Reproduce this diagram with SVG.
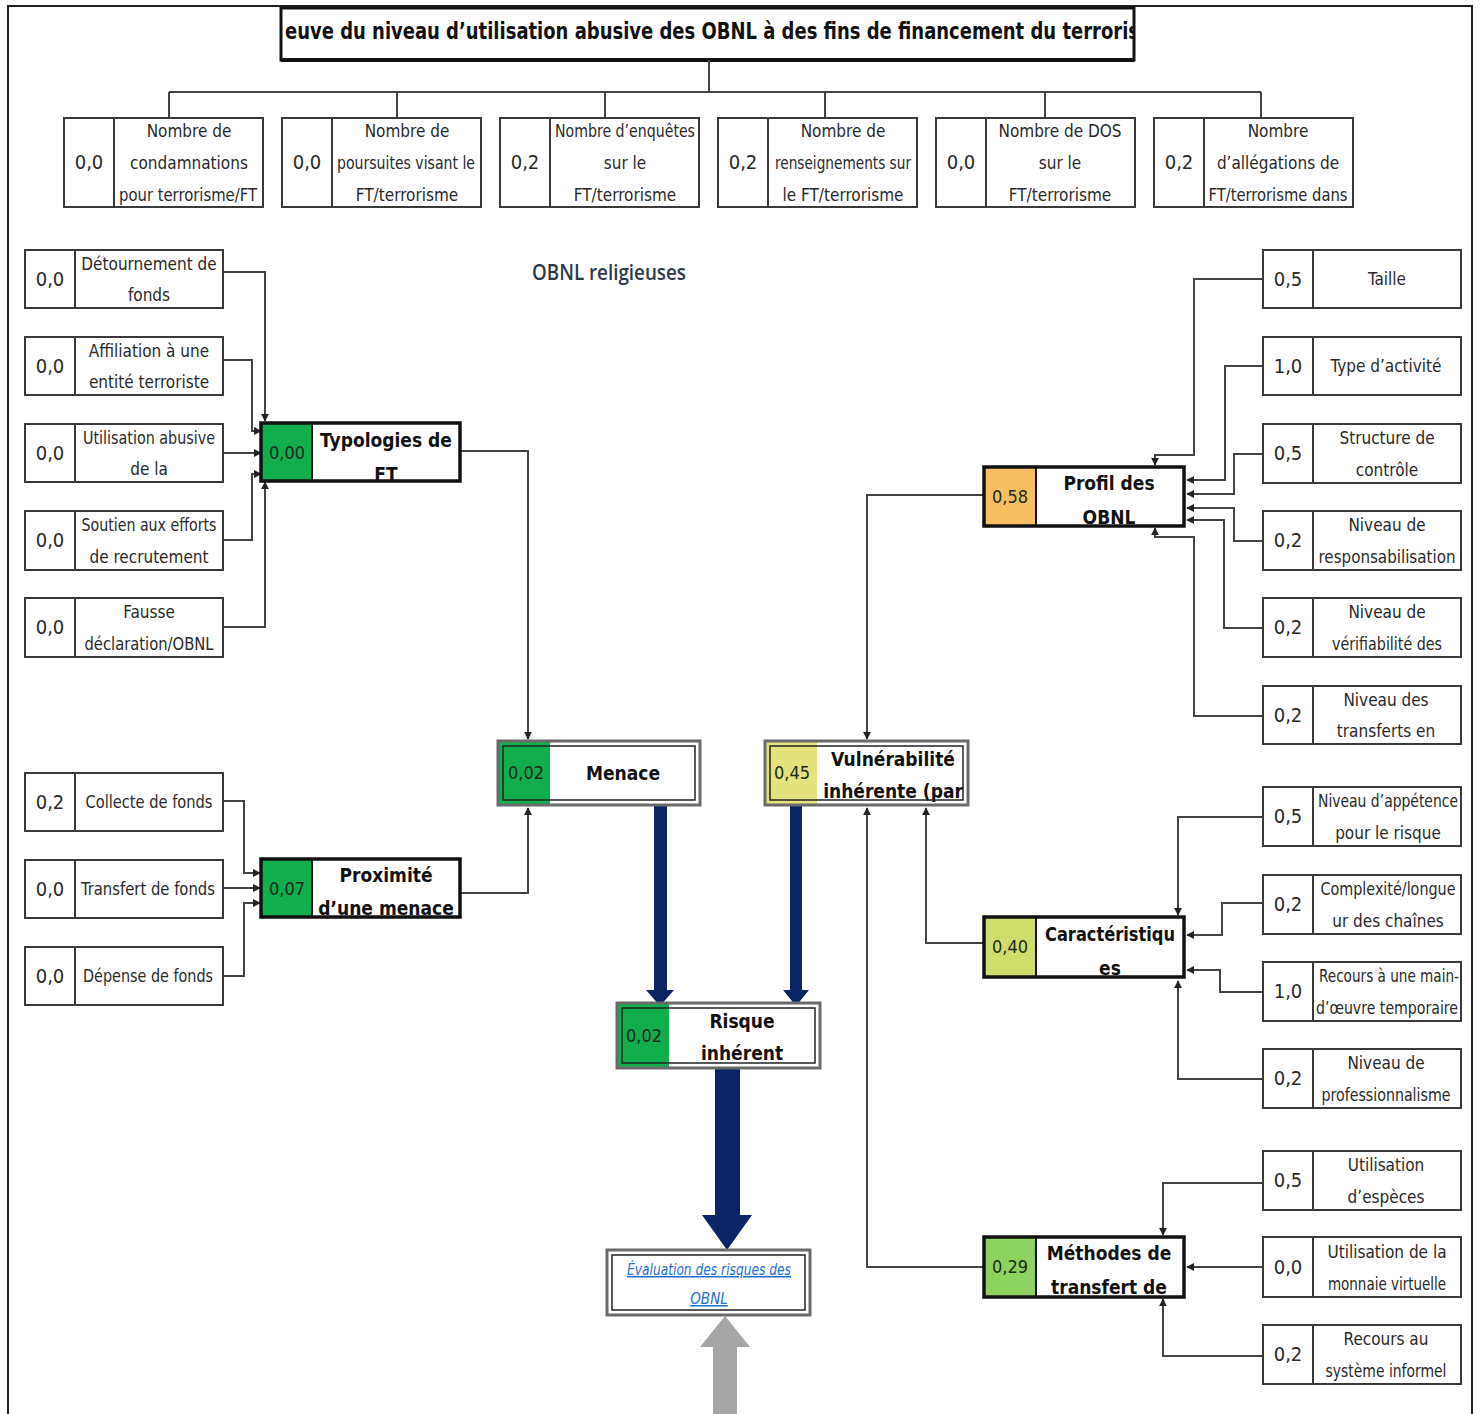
<svg xmlns="http://www.w3.org/2000/svg" width="1480" height="1414" viewBox="0 0 1480 1414">
<defs>
<style>
.frame{fill:none;stroke:#222;stroke-width:2}
.box{fill:#fff;stroke:#3a3a3a;stroke-width:2}
.div{stroke:#3a3a3a;stroke-width:2}
.nbox{fill:none;stroke:#111;stroke-width:3.5}
.obox{fill:none;stroke:#6a6a6a;stroke-width:3}
.ibox{fill:none;stroke:#222;stroke-width:1.5}
.lbl{font-family:"DejaVu Sans Condensed","Liberation Sans Narrow","Liberation Sans",sans-serif;font-size:17px;fill:#2a2a2a;text-anchor:middle}
.val{font-family:"DejaVu Sans Condensed","Liberation Sans Narrow","Liberation Sans",sans-serif;font-size:20px;fill:#2a2a2a;text-anchor:middle}
.nval{font-family:"DejaVu Sans Condensed","Liberation Sans Narrow","Liberation Sans",sans-serif;font-size:18px;fill:#1a2a1a;text-anchor:middle}
.ttl{font-family:"DejaVu Sans Condensed","Liberation Sans","DejaVu Sans",sans-serif;font-size:19px;font-weight:bold;fill:#111;text-anchor:middle}
.conn{fill:none;stroke:#444;stroke-width:2;marker-end:url(#ah)}
.tree{fill:none;stroke:#444;stroke-width:2}
.link{font-family:"DejaVu Sans Condensed","Liberation Sans",sans-serif;font-size:15px;font-style:italic;fill:#1f6fd0;text-anchor:middle;text-decoration:underline}
</style>
<marker id="ah" viewBox="0 0 10 10" refX="9" refY="5" markerWidth="8" markerHeight="8" markerUnits="userSpaceOnUse" orient="auto">
<path d="M0,0 L10,5 L0,10 z" fill="#222"/>
</marker>
<clipPath id="titleclip"><rect x="283" y="10" width="850" height="48"/></clipPath>
</defs>
<rect width="1480" height="1414" fill="#fff"/>
<path class="frame" d="M8,1414 V6 H1472 V1414"/>

<g id="title">
<rect x="281" y="8" width="853" height="52" fill="#fff" stroke="#111" stroke-width="3"/>
<line x1="281" y1="60" x2="1134" y2="60" stroke="#111" stroke-width="4"/>
<g clip-path="url(#titleclip)">
<text x="285" y="39" font-family="'DejaVu Sans Condensed','Liberation Sans',sans-serif" font-size="23" font-weight="bold" fill="#111" textLength="854" lengthAdjust="spacingAndGlyphs">euve du niveau d’utilisation abusive des OBNL à des fins de  financement du terroris</text>
</g>
</g>

<g id="tree-lines">
<path class="tree" d="M709,60 V92 M169,92 H1261 M169,92 V118 M397,92 V118 M605,92 V118 M825,92 V118 M1045,92 V118 M1261,92 V118"/>
</g>

<g id="top1"><rect class="box" x="64" y="118" width="199" height="89"/><line class="div" x1="114" y1="118" x2="114" y2="207"/><text class="val" x="89" y="169">0,0</text><text class="lbl" x="189" y="137">Nombre de</text><text class="lbl" x="189" y="169">condamnations</text><text class="lbl" x="188" y="201" textLength="138" lengthAdjust="spacingAndGlyphs">pour terrorisme/FT</text></g>
<g id="top2"><rect class="box" x="282" y="118" width="199" height="89"/><line class="div" x1="332" y1="118" x2="332" y2="207"/><text class="val" x="307" y="169">0,0</text><text class="lbl" x="407" y="137">Nombre de</text><text class="lbl" x="406" y="169" textLength="138" lengthAdjust="spacingAndGlyphs">poursuites visant le</text><text class="lbl" x="407" y="201">FT/terrorisme</text></g>
<g id="top3"><rect class="box" x="500" y="118" width="199" height="89"/><line class="div" x1="550" y1="118" x2="550" y2="207"/><text class="val" x="525" y="169">0,2</text><text class="lbl" x="625" y="137" textLength="140" lengthAdjust="spacingAndGlyphs">Nombre d’enquêtes</text><text class="lbl" x="625" y="169">sur le</text><text class="lbl" x="625" y="201">FT/terrorisme</text></g>
<g id="top4"><rect class="box" x="718" y="118" width="199" height="89"/><line class="div" x1="768" y1="118" x2="768" y2="207"/><text class="val" x="743" y="169">0,2</text><text class="lbl" x="843" y="137">Nombre de</text><text class="lbl" x="843" y="169" textLength="136" lengthAdjust="spacingAndGlyphs">renseignements sur</text><text class="lbl" x="843" y="201">le FT/terrorisme</text></g>
<g id="top5"><rect class="box" x="936" y="118" width="199" height="89"/><line class="div" x1="986" y1="118" x2="986" y2="207"/><text class="val" x="961" y="169">0,0</text><text class="lbl" x="1060" y="137">Nombre de DOS</text><text class="lbl" x="1060" y="169">sur le</text><text class="lbl" x="1060" y="201">FT/terrorisme</text></g>
<g id="top6"><rect class="box" x="1154" y="118" width="199" height="89"/><line class="div" x1="1204" y1="118" x2="1204" y2="207"/><text class="val" x="1179" y="169">0,2</text><text class="lbl" x="1278" y="137">Nombre</text><text class="lbl" x="1278" y="169">d’allégations de</text><text class="lbl" x="1278" y="201" textLength="139" lengthAdjust="spacingAndGlyphs">FT/terrorisme dans</text></g>

<text id="subtitle" x="609" y="280" font-family="'Open Sans','Liberation Sans',sans-serif" font-size="22" font-weight="600" fill="#2e3a4c" text-anchor="middle" textLength="154" lengthAdjust="spacingAndGlyphs">OBNL religieuses</text>

<g id="connectors">
<path class="conn" d="M223,272 H265 V421"/>
<path class="conn" d="M223,360 H252 V431 H261"/>
<path class="conn" d="M223,453 H261"/>
<path class="conn" d="M223,540 H252 V474 H261"/>
<path class="conn" d="M223,627 H265 V482"/>
<path class="conn" d="M460,451 H528 V739"/>
<path class="conn" d="M460,893 H528 V808"/>
<path class="conn" d="M223,801 H244 V873 H260"/>
<path class="conn" d="M223,888 H260"/>
<path class="conn" d="M223,976 H244 V903 H260"/>
<path class="conn" d="M1263,279 H1194 V455 H1155 V465"/>
<path class="conn" d="M1263,366 H1225 V480 H1187"/>
<path class="conn" d="M1263,454 H1234 V494 H1187"/>
<path class="conn" d="M1263,541 H1234 V508 H1187"/>
<path class="conn" d="M1263,628 H1224 V520 H1187"/>
<path class="conn" d="M1263,716 H1194 V537 H1155 V528"/>
<path class="conn" d="M984,495 H867 V739"/>
<path class="conn" d="M984,943 H926 V808"/>
<path class="conn" d="M984,1267 H867 V808"/>
<path class="conn" d="M1263,817 H1178 V915"/>
<path class="conn" d="M1263,903 H1222 V935 H1187"/>
<path class="conn" d="M1263,992 H1220 V970 H1187"/>
<path class="conn" d="M1263,1079 H1178 V981"/>
<path class="conn" d="M1263,1183 H1163 V1235"/>
<path class="conn" d="M1263,1267 H1187"/>
<path class="conn" d="M1263,1356 H1163 V1299"/>
<polygon fill="#0b2466" points="654,806 667,806 667,990 674,990 660,1006 646,990 654,990"/>
<polygon fill="#0b2466" points="790,806 802,806 802,990 809,990 796,1006 783,990 790,990"/>
<polygon fill="#0b2466" points="715,1068 740,1068 740,1215 752,1215 727,1250 702,1215 715,1215"/>
<polygon fill="#a6a6a6" points="713,1414 737,1414 737,1347 750,1347 725,1316 700,1347 713,1347"/>
</g>

<g id="in-detournement"><rect class="box" x="25" y="250" width="198" height="58"/><line class="div" x1="75" y1="250" x2="75" y2="308"/><text class="val" x="50" y="286">0,0</text><text class="lbl" x="149" y="270">Détournement de</text><text class="lbl" x="149" y="301">fonds</text></g>
<g id="in-affiliation"><rect class="box" x="25" y="337" width="198" height="58"/><line class="div" x1="75" y1="337" x2="75" y2="395"/><text class="val" x="50" y="373">0,0</text><text class="lbl" x="149" y="357">Affiliation à une</text><text class="lbl" x="149" y="388">entité terroriste</text></g>
<g id="in-utilisation"><rect class="box" x="25" y="424" width="198" height="58"/><line class="div" x1="75" y1="424" x2="75" y2="482"/><text class="val" x="50" y="460">0,0</text><text class="lbl" x="149" y="444" textLength="132" lengthAdjust="spacingAndGlyphs">Utilisation abusive</text><text class="lbl" x="149" y="475">de la</text></g>
<g id="in-soutien"><rect class="box" x="25" y="511" width="198" height="59"/><line class="div" x1="75" y1="511" x2="75" y2="570"/><text class="val" x="50" y="547">0,0</text><text class="lbl" x="149" y="531" textLength="135" lengthAdjust="spacingAndGlyphs">Soutien aux efforts</text><text class="lbl" x="149" y="563">de recrutement</text></g>
<g id="in-fausse"><rect class="box" x="25" y="598" width="198" height="59"/><line class="div" x1="75" y1="598" x2="75" y2="657"/><text class="val" x="50" y="634">0,0</text><text class="lbl" x="149" y="618">Fausse</text><text class="lbl" x="149" y="650" textLength="129" lengthAdjust="spacingAndGlyphs">déclaration/OBNL</text></g>

<g id="in-collecte"><rect class="box" x="25" y="773" width="198" height="58"/><line class="div" x1="75" y1="773" x2="75" y2="831"/><text class="val" x="50" y="809">0,2</text><text class="lbl" x="149" y="808" textLength="127" lengthAdjust="spacingAndGlyphs">Collecte de fonds</text></g>
<g id="in-transfert"><rect class="box" x="25" y="860" width="198" height="58"/><line class="div" x1="75" y1="860" x2="75" y2="918"/><text class="val" x="50" y="896">0,0</text><text class="lbl" x="148" y="895" textLength="134" lengthAdjust="spacingAndGlyphs">Transfert de fonds</text></g>
<g id="in-depense"><rect class="box" x="25" y="947" width="198" height="58"/><line class="div" x1="75" y1="947" x2="75" y2="1005"/><text class="val" x="50" y="983">0,0</text><text class="lbl" x="148" y="982" textLength="130" lengthAdjust="spacingAndGlyphs">Dépense de fonds</text></g>

<g id="typologies"><rect x="261" y="423" width="199" height="58" fill="#fff"/><rect x="261" y="423" width="51" height="58" fill="#12ad4c"/><line x1="312" y1="423" x2="312" y2="481" stroke="#111" stroke-width="2"/><text class="nval" x="287" y="459">0,00</text><text class="ttl" x="386" y="447">Typologies de</text><text class="ttl" x="386" y="481">FT</text><rect class="nbox" x="261" y="423" width="199" height="58"/></g>
<g id="proximite"><rect x="261" y="859" width="199" height="58" fill="#fff"/><rect x="261" y="859" width="51" height="58" fill="#12ad4c"/><line x1="312" y1="859" x2="312" y2="917" stroke="#111" stroke-width="2"/><text class="nval" x="287" y="895">0,07</text><text class="ttl" x="386" y="882">Proximité</text><text class="ttl" x="386" y="915">d’une menace</text><rect class="nbox" x="261" y="859" width="199" height="58"/></g>

<g id="menace"><rect x="498" y="741" width="202" height="64" fill="#fff"/><rect x="498" y="741" width="52" height="64" fill="#12ad4c"/><text class="nval" x="526" y="779">0,02</text><text class="ttl" x="623" y="780">Menace</text><rect class="obox" x="498" y="741" width="202" height="64"/><rect class="ibox" x="503" y="746" width="192" height="54"/></g>
<g id="vulnerabilite"><rect x="765" y="741" width="203" height="64" fill="#fff"/><rect x="765" y="741" width="52" height="64" fill="#e3e27c"/><text class="nval" x="792" y="779">0,45</text><text class="ttl" x="893" y="766">Vulnérabilité</text><text class="ttl" x="893" y="798">inhérente (par</text><rect class="obox" x="765" y="741" width="203" height="64"/><rect class="ibox" x="770" y="746" width="193" height="54"/></g>
<g id="risque"><rect x="617" y="1003" width="203" height="65" fill="#fff"/><rect x="617" y="1003" width="52" height="65" fill="#12ad4c"/><text class="nval" x="644" y="1042">0,02</text><text class="ttl" x="742" y="1028">Risque</text><text class="ttl" x="742" y="1060">inhérent</text><rect class="obox" x="617" y="1003" width="203" height="65"/><rect class="ibox" x="622" y="1008" width="193" height="55"/></g>
<g id="evaluation"><rect x="607" y="1250" width="203" height="65" fill="#fff"/><text class="link" x="709" y="1275" textLength="164" lengthAdjust="spacingAndGlyphs">Évaluation des risques des</text><text class="link" x="709" y="1304">OBNL</text><rect class="obox" x="607" y="1250" width="203" height="65"/><rect class="ibox" x="612" y="1255" width="193" height="55" stroke="#555"/></g>

<g id="profil"><rect x="984" y="467" width="200" height="59" fill="#fff"/><rect x="984" y="467" width="52" height="59" fill="#f8bf62"/><line x1="1036" y1="467" x2="1036" y2="526" stroke="#111" stroke-width="2"/><text class="nval" x="1010" y="503">0,58</text><text class="ttl" x="1109" y="490">Profil des</text><text class="ttl" x="1109" y="524">OBNL</text><rect class="nbox" x="984" y="467" width="200" height="59"/></g>
<g id="caracteristiques"><rect x="984" y="917" width="200" height="60" fill="#fff"/><rect x="984" y="917" width="52" height="60" fill="#cfdd6a"/><line x1="1036" y1="917" x2="1036" y2="977" stroke="#111" stroke-width="2"/><text class="nval" x="1010" y="953">0,40</text><text class="ttl" x="1110" y="941" textLength="130" lengthAdjust="spacingAndGlyphs">Caractéristiqu</text><text class="ttl" x="1110" y="975">es</text><rect class="nbox" x="984" y="917" width="200" height="60"/></g>
<g id="methodes"><rect x="984" y="1237" width="200" height="60" fill="#fff"/><rect x="984" y="1237" width="52" height="60" fill="#8ed25f"/><line x1="1036" y1="1237" x2="1036" y2="1297" stroke="#111" stroke-width="2"/><text class="nval" x="1010" y="1273">0,29</text><text class="ttl" x="1109" y="1260">Méthodes de</text><text class="ttl" x="1109" y="1294">transfert de</text><rect class="nbox" x="984" y="1237" width="200" height="60"/></g>

<g id="in-taille"><rect class="box" x="1263" y="250" width="198" height="58"/><line class="div" x1="1313" y1="250" x2="1313" y2="308"/><text class="val" x="1288" y="286">0,5</text><text class="lbl" x="1387" y="285">Taille</text></g>
<g id="in-type"><rect class="box" x="1263" y="337" width="198" height="58"/><line class="div" x1="1313" y1="337" x2="1313" y2="395"/><text class="val" x="1288" y="373">1,0</text><text class="lbl" x="1386" y="372">Type d’activité</text></g>
<g id="in-structure"><rect class="box" x="1263" y="424" width="198" height="59"/><line class="div" x1="1313" y1="424" x2="1313" y2="483"/><text class="val" x="1288" y="460">0,5</text><text class="lbl" x="1387" y="444">Structure de</text><text class="lbl" x="1387" y="476">contrôle</text></g>
<g id="in-responsabilisation"><rect class="box" x="1263" y="511" width="198" height="59"/><line class="div" x1="1313" y1="511" x2="1313" y2="570"/><text class="val" x="1288" y="547">0,2</text><text class="lbl" x="1387" y="531">Niveau de</text><text class="lbl" x="1387" y="563" textLength="137" lengthAdjust="spacingAndGlyphs">responsabilisation</text></g>
<g id="in-verifiabilite"><rect class="box" x="1263" y="598" width="198" height="59"/><line class="div" x1="1313" y1="598" x2="1313" y2="657"/><text class="val" x="1288" y="634">0,2</text><text class="lbl" x="1387" y="618">Niveau de</text><text class="lbl" x="1387" y="650" textLength="110" lengthAdjust="spacingAndGlyphs">vérifiabilité des</text></g>
<g id="in-transferts"><rect class="box" x="1263" y="686" width="198" height="58"/><line class="div" x1="1313" y1="686" x2="1313" y2="744"/><text class="val" x="1288" y="722">0,2</text><text class="lbl" x="1386" y="706">Niveau des</text><text class="lbl" x="1386" y="737">transferts en</text></g>

<g id="in-appetence"><rect class="box" x="1263" y="787" width="198" height="59"/><line class="div" x1="1313" y1="787" x2="1313" y2="846"/><text class="val" x="1288" y="823">0,5</text><text class="lbl" x="1388" y="807" textLength="140" lengthAdjust="spacingAndGlyphs">Niveau d’appétence</text><text class="lbl" x="1388" y="839">pour le risque</text></g>
<g id="in-complexite"><rect class="box" x="1263" y="875" width="198" height="59"/><line class="div" x1="1313" y1="875" x2="1313" y2="934"/><text class="val" x="1288" y="911">0,2</text><text class="lbl" x="1388" y="895" textLength="135" lengthAdjust="spacingAndGlyphs">Complexité/longue</text><text class="lbl" x="1388" y="927">ur des chaînes</text></g>
<g id="in-recours"><rect class="box" x="1263" y="962" width="198" height="59"/><line class="div" x1="1313" y1="962" x2="1313" y2="1021"/><text class="val" x="1288" y="998">1,0</text><text class="lbl" x="1389" y="982" textLength="140" lengthAdjust="spacingAndGlyphs">Recours à une main-</text><text class="lbl" x="1387" y="1014" textLength="142" lengthAdjust="spacingAndGlyphs">d’œuvre temporaire</text></g>
<g id="in-professionnalisme"><rect class="box" x="1263" y="1049" width="198" height="59"/><line class="div" x1="1313" y1="1049" x2="1313" y2="1108"/><text class="val" x="1288" y="1085">0,2</text><text class="lbl" x="1386" y="1069">Niveau de</text><text class="lbl" x="1386" y="1101" textLength="129" lengthAdjust="spacingAndGlyphs">professionnalisme</text></g>

<g id="in-especes"><rect class="box" x="1263" y="1151" width="198" height="59"/><line class="div" x1="1313" y1="1151" x2="1313" y2="1210"/><text class="val" x="1288" y="1187">0,5</text><text class="lbl" x="1386" y="1171">Utilisation</text><text class="lbl" x="1386" y="1203">d’espèces</text></g>
<g id="in-monnaie"><rect class="box" x="1263" y="1237" width="198" height="60"/><line class="div" x1="1313" y1="1237" x2="1313" y2="1297"/><text class="val" x="1288" y="1274">0,0</text><text class="lbl" x="1387" y="1258">Utilisation de la</text><text class="lbl" x="1387" y="1290" textLength="118" lengthAdjust="spacingAndGlyphs">monnaie virtuelle</text></g>
<g id="in-systeme"><rect class="box" x="1263" y="1325" width="198" height="59"/><line class="div" x1="1313" y1="1325" x2="1313" y2="1384"/><text class="val" x="1288" y="1361">0,2</text><text class="lbl" x="1386" y="1345">Recours au</text><text class="lbl" x="1386" y="1377" textLength="121" lengthAdjust="spacingAndGlyphs">système informel</text></g>
</svg>
